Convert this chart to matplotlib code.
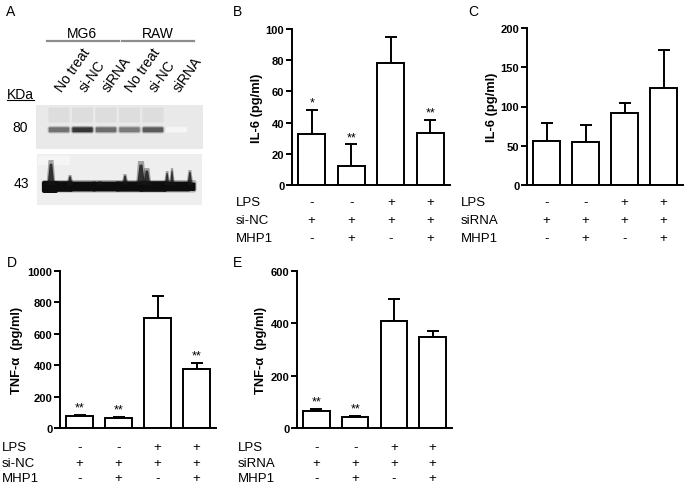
import numpy as np
import matplotlib.pyplot as plt
from matplotlib.patches import Rectangle, FancyBboxPatch
from matplotlib.transforms import blended_transform_factory

plt.rcParams['font.family'] = ['Liberation Sans', 'DejaVu Sans']

W, H = 685, 485

# treatment rows shown under every bar panel
lps = ['-', '-', '+', '+']
knock = ['+', '+', '+', '+']
mhp1 = ['-', '+', '-', '+']

# IL-6, si-NC (B)
il6_sinc = [33, 12.5, 78, 33.5]
il6_sinc_err = [15, 13.5, 17, 8]
il6_sinc_sig = ['*', '**', '', '**']

# IL-6, siRNA (C)
il6_sirna = [55.5, 54.5, 92, 123]
il6_sirna_err = [24, 21.5, 12, 49]
il6_sirna_sig = ['', '', '', '']

# TNF-a, si-NC (D)
tnf_sinc = [74, 66, 703, 373]
tnf_sinc_err = [11, 6, 136, 42]
tnf_sinc_sig = ['**', '**', '', '**']

# TNF-a, siRNA (E)
tnf_sirna = [66, 41, 409, 346]
tnf_sirna_err = [6, 6, 83, 23]
tnf_sirna_sig = ['**', '**', '', '']

# western blot (A)
lanes = ['No treat', 'si-NC', 'siRNA', 'No treat', 'si-NC', 'siRNA']
band80 = [0.62, 0.88, 0.64, 0.58, 0.72, 0.04]
band43 = [1.0, 0.9, 0.9, 0.95, 1.0, 0.9]


def box(l, t, r, b):
    return [l / W, 1 - b / H, (r - l) / W, (b - t) / H]


def px(x, y):
    return x / W, 1 - y / H


fig = plt.figure(figsize=(W / 100, H / 100), dpi=100)
fig.patch.set_facecolor('white')


def bar_panel(rect, vals, errs, sig, ymax, step, ylabel, ylab_x, row_name, lab_x, rows_y):
    ax = fig.add_axes(box(*rect))
    x = np.arange(len(vals))
    ax.bar(x, vals, width=0.68, color='white', edgecolor='black', linewidth=1.4, zorder=2)
    ax.errorbar(x, vals, yerr=[np.zeros(len(vals)), errs], fmt='none', ecolor='black',
                elinewidth=1.4, capsize=4.5, capthick=1.4, zorder=1)
    for xi, v, e, s in zip(x, vals, errs, sig):
        if s:
            ax.annotate(s, (xi, v + e), xytext=(0, 1), textcoords='offset points',
                        ha='center', va='bottom', fontsize=9)
    ax.set_xlim(-0.5, 3.5)
    ax.set_ylim(0, ymax)
    ax.set_yticks(np.arange(0, ymax + 1, step))
    ax.set_xticks([])
    for sp in ['top', 'right']:
        ax.spines[sp].set_visible(False)
    for sp in ['left', 'bottom']:
        ax.spines[sp].set_linewidth(1.4)
    ax.tick_params(axis='y', direction='out', length=4, width=1.4, pad=1.5, labelsize=8)
    for t in ax.get_yticklabels():
        t.set_fontweight('bold')
    fig.text(*px(ylab_x, (rect[1] + rect[3]) / 2), ylabel, rotation=90, ha='center', va='center',
             fontsize=9.3, fontweight='bold')
    trans = blended_transform_factory(ax.transData, fig.transFigure)
    names = ['LPS', row_name, 'MHP1']
    for name, signs, ry in zip(names, [lps, knock, mhp1], rows_y):
        fig.text(*px(lab_x, ry), name, ha='left', va='center', fontsize=9.5)
        for xi, s in zip(x, signs):
            ax.text(xi, 1 - ry / H, s, transform=trans, ha='center', va='center', fontsize=9.5)
    return ax


bar_panel((292, 30, 450, 186), il6_sinc, il6_sinc_err, il6_sinc_sig, 100, 20,
          'IL-6 (pg/ml)', 257, 'si-NC', 236, [203, 221, 239])
bar_panel((527, 29, 683, 186), il6_sirna, il6_sirna_err, il6_sirna_sig, 200, 50,
          'IL-6 (pg/ml)', 492, 'siRNA', 461, [203, 221, 239])
bar_panel((60, 272, 216, 429), tnf_sinc, tnf_sinc_err, tnf_sinc_sig, 1000, 200,
          'TNF-α  (pg/ml)', 17, 'si-NC', 2, [448, 464, 479])
bar_panel((297, 272, 452, 429), tnf_sirna, tnf_sirna_err, tnf_sirna_sig, 600, 200,
          'TNF-α  (pg/ml)', 261, 'siRNA', 238, [448, 464, 479])

# panel letters
for letter, (lx, ly) in zip('ABCDE', [(11, 12), (238, 12), (473, 12), (12, 263), (237, 263)]):
    fig.text(*px(lx, ly), letter, ha='center', va='center', fontsize=10)

# ---- panel A: blot drawn in pixel coordinates ----
axa = fig.add_axes(box(0, 0, 230, 215))
axa.set_xlim(0, 230)
axa.set_ylim(215, 0)
axa.axis('off')

lane_x = 59 + 23.5 * np.arange(len(lanes))

axa.add_patch(Rectangle((36, 106), 167, 44, color='#e9e9e9', lw=0))
axa.add_patch(Rectangle((37, 155), 165, 51, color='#eeeeee', lw=0))
axa.add_patch(Rectangle((38, 157), 32, 9, color='#f5f5f5', lw=0))

for cx, inten in zip(lane_x, band80):
    if inten > 0.3:
        axa.add_patch(FancyBboxPatch((cx - 9, 110), 18, 12, boxstyle='round,pad=1.5',
                                     color='#dddddd', lw=0))
    g = 1 - inten * 0.9
    for pad, a in [(2.6, 0.25), (1.8, 0.45), (1.0, 1.0)]:
        axa.add_patch(FancyBboxPatch((cx - 9, 129.5), 18, 2.5, boxstyle='round,pad=%g' % pad,
                                     color=(g, g, g), lw=0, alpha=a))

# main 43 kDa band
axa.add_patch(FancyBboxPatch((44, 183.5), 150, 7.5, boxstyle='round,pad=2.5',
                             color='#1a1a1a', lw=0, alpha=0.3))
for cx, inten in zip(lane_x, band43):
    h = 8 * inten
    axa.add_patch(FancyBboxPatch((cx - 12.5, 187.5 - h / 2), 25, h, boxstyle='round,pad=1.3',
                                 color='#0d0d0d', lw=0))
axa.add_patch(FancyBboxPatch((44, 184), 12, 8, boxstyle='round,pad=2', color='#0d0d0d', lw=0))
axa.add_patch(FancyBboxPatch((180, 185), 14, 5.5, boxstyle='round,pad=1.5', color='#0d0d0d', lw=0))

# smears over the 43 kDa band: (lane position, height in px, width in px)
smears = [(-0.34, 25, 5), (0.47, 10, 3), (1.74, 4, 3), (2.81, 11, 3), (3.49, 24, 6),
          (3.74, 17, 5), (4.6, 14, 2.5), (4.81, 17, 2), (5.57, 15, 3)]
for pos, hh, ww in smears:
    sx = 59 + 23.5 * pos
    axa.fill([sx - ww / 2 - 2, sx - ww / 2, sx + ww / 2, sx + ww / 2 + 2],
             [186, 186 - hh, 186 - hh, 186], color='#151515', lw=0, alpha=0.35)
    axa.fill([sx - ww / 2 - 1, sx - ww / 4, sx + ww / 4, sx + ww / 2 + 1],
             [186, 186 - hh * 0.85, 186 - hh * 0.85, 186], color='#151515', lw=0, alpha=0.8)

axa.text(82, 34, 'MG6', ha='center', va='center', fontsize=10)
axa.text(158, 34, 'RAW', ha='center', va='center', fontsize=10)
axa.plot([47, 119], [42, 42], color='#8c8c8c', lw=1.6)
axa.plot([122, 194], [42, 42], color='#8c8c8c', lw=1.6)

for cx, name in zip(lane_x, lanes):
    axa.text(cx + 3, 93, name, rotation=55, rotation_mode='anchor', ha='left', va='baseline',
             fontsize=10)

axa.text(20, 95, 'KDa', ha='center', va='center', fontsize=10)
axa.plot([7, 34], [100.5, 100.5], color='black', lw=0.8)
axa.text(20, 128, '80', ha='center', va='center', fontsize=10)
axa.text(21, 184, '43', ha='center', va='center', fontsize=10)

fig.savefig('out.png', dpi=100, facecolor='white')
